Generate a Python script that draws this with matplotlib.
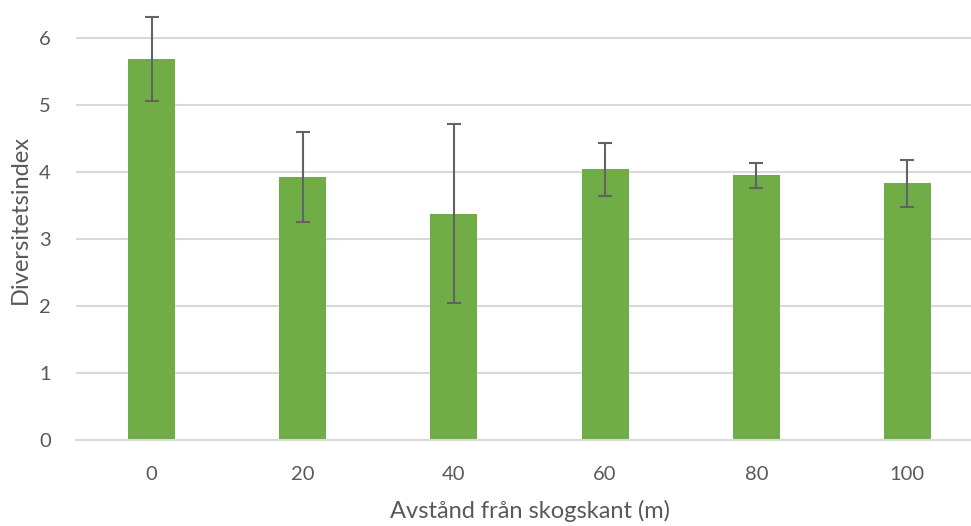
import matplotlib.pyplot as plt
import numpy as np

plt.rcParams['font.family'] = ['Lato', 'DejaVu Sans']

# Avstånd från skogskant (m) och medelvärde av diversitetsindex
avstand = ['0', '20', '40', '60', '80', '100']
diversitet = [5.69, 3.93, 3.38, 4.04, 3.95, 3.83]
fel = [0.63, 0.67, 1.33, 0.40, 0.19, 0.35]

text_color = '#595959'

fig = plt.figure(figsize=(9.71, 5.26), dpi=100)
ax = fig.add_axes([76 / 971, 86 / 526, 907 / 971, 440 / 526])

x = np.arange(len(avstand))
ax.bar(x, diversitet, width=0.31, color='#70AD47', zorder=2)
ax.errorbar(x, diversitet, yerr=fel, fmt='none', ecolor='#636363',
            elinewidth=1.5, capsize=5, capthick=1.5, zorder=3)

ax.set_xlim(-0.5, len(avstand) - 0.5)
ax.set_ylim(0, 440 / 67)
ax.set_yticks(range(0, 7))
ax.set_xticks(x)
ax.set_xticklabels(avstand)

ax.yaxis.grid(True, color='#D9D9D9', linewidth=1.5, zorder=0)
for s in ['top', 'right', 'left']:
    ax.spines[s].set_visible(False)
ax.spines['bottom'].set_color('#D9D9D9')
ax.spines['bottom'].set_linewidth(1.5)
ax.tick_params(axis='both', length=0, labelsize=14.5, colors=text_color)
ax.tick_params(axis='x', pad=19)
ax.tick_params(axis='y', pad=18)

ax.set_xlabel('Avstånd från skogskant (m)', fontsize=17, color=text_color, labelpad=12)
ax.set_ylabel('Diversitetsindex', fontsize=17, color=text_color, labelpad=6)

fig.savefig('out.png', dpi=100)
